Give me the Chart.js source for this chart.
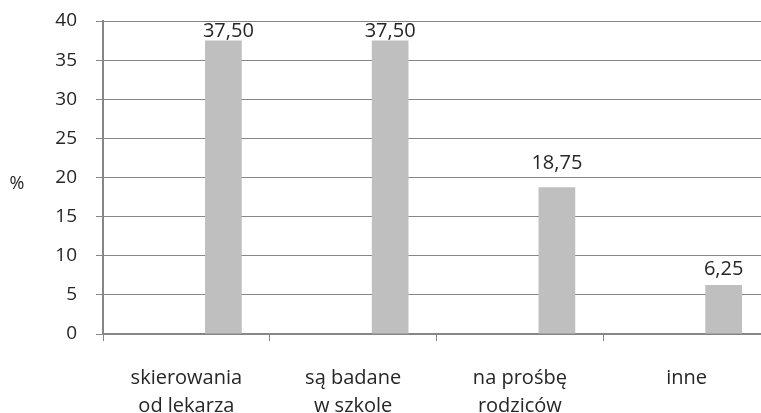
<!DOCTYPE html>
<html>
<head>
<meta charset="utf-8">
<script src="https://cdn.jsdelivr.net/npm/chart.js@4/dist/chart.umd.min.js"></script>
<style>
  html, body { margin: 0; padding: 0; overflow: hidden; background: #fff; }
  #wrap { width: 770px; height: 413px; }
</style>
</head>
<body>
<div id="wrap"><canvas id="c"></canvas></div>
<script>
var categories = [
	['skierowania', 'od lekarza'],
	['są badane', 'w szkole'],
	['na prośbę', 'rodziców'],
	['inne']
];
var values = [37.5, 37.5, 18.75, 6.25];
var emptySeries = [null, null, null, null];
var yMin = 0, yMax = 40, yStep = 5;

var gridColor = '#868686';
var textColor = '#262626';
var fontFamily = '"Open Sans", sans-serif';
// przesuniecia etykiet jak w oryginale (dx, odstep od slupka)
var labelDx = [5, 0, 0, 0];
var labelGap = [4, 4, 18, 10];

// etykiety wartosci nad slupkami
var valueLabels = {
	id: 'valueLabels',
	afterDatasetsDraw: function (chart) {
		var ctx = chart.ctx;
		var meta = chart.getDatasetMeta(1);
		ctx.save();
		ctx.fillStyle = textColor;
		ctx.font = '20px ' + fontFamily;
		ctx.textAlign = 'center';
		ctx.textBaseline = 'alphabetic';
		for (var i = 0; i < meta.data.length; i++) {
			var bar = meta.data[i];
			var txt = values[i].toFixed(2).replace('.', ',');
			ctx.fillText(txt, bar.x + labelDx[i], bar.y - labelGap[i]);
		}
		ctx.restore();
	}
};

// poziomy tytul osi Y
var yTitle = {
	id: 'yTitle',
	afterDraw: function (chart) {
		var ctx = chart.ctx;
		ctx.save();
		ctx.fillStyle = textColor;
		ctx.font = '18px ' + fontFamily;
		ctx.textAlign = 'center';
		ctx.textBaseline = 'middle';
		ctx.fillText('%', 17, (chart.chartArea.top + chart.chartArea.bottom) / 2 + 6);
		ctx.restore();
	}
};

new Chart(document.getElementById('c'), {
	type: 'bar',
	data: {
		labels: categories,
		datasets: [
			{ data: emptySeries, backgroundColor: '#bfbfbf' },
			{ data: values, backgroundColor: '#bfbfbf' }
		]
	},
	options: {
		responsive: true,
		maintainAspectRatio: false,
		animation: false,
		datasets: { bar: { categoryPercentage: 0.888, barPercentage: 0.496 } },
		layout: { padding: { top: 21, left: 0, right: 0, bottom: 0 } },
		plugins: { legend: { display: false }, tooltip: { enabled: false } },
		scales: {
			x: {
				grid: { display: true, drawOnChartArea: false, drawTicks: true, tickLength: 7, color: gridColor, lineWidth: 1 },
				border: { color: gridColor, width: 2 },
				ticks: { color: textColor, font: { family: fontFamily, size: 20, lineHeight: 1.4 }, padding: 23, maxRotation: 0, autoSkip: false },
				afterFit: function (s) { s.height = 79; }
			},
			y: {
				min: yMin, max: yMax,
				grid: { color: gridColor, lineWidth: 1, tickLength: 7 },
				border: { color: gridColor, width: 2 },
				ticks: { stepSize: yStep, color: textColor, font: { family: fontFamily, size: 19, lineHeight: 1 }, padding: 19 },
				afterFit: function (s) { s.width = 103; s.paddingTop = 0; s.paddingBottom = 0; }
			}
		}
	},
	plugins: [valueLabels, yTitle]
});
</script>
</body>
</html>
